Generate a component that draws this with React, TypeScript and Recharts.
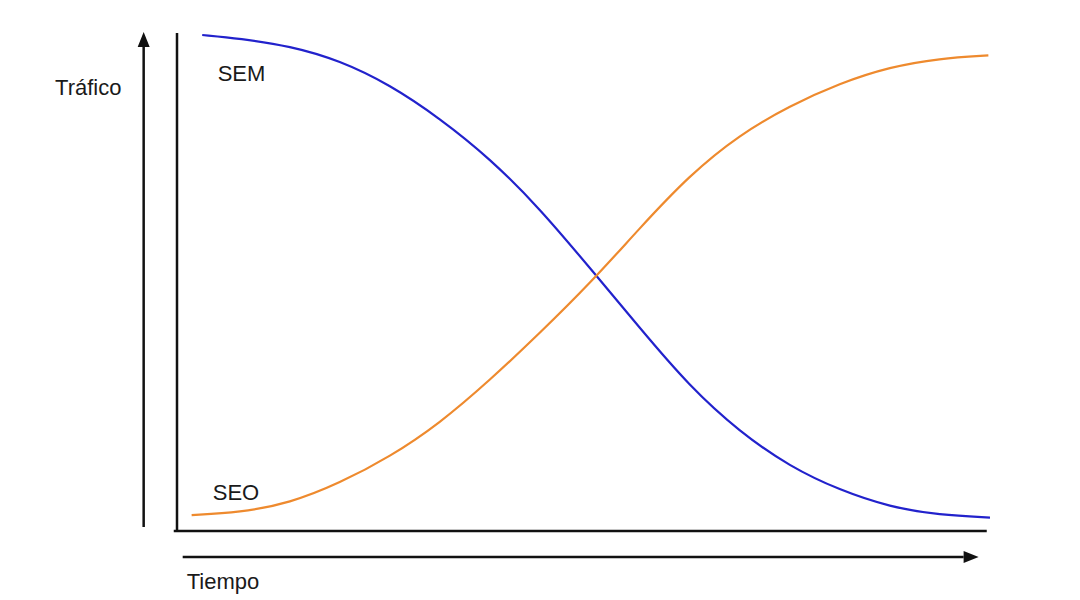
import React from 'react';
import { LineChart, Line, XAxis, YAxis, ReferenceLine, ReferenceDot } from 'recharts';

// Time (0-100) and traffic (0-100) in arbitrary units
const semTime = [3.1, 7.7, 13.9, 20.0, 26.2, 32.3, 38.5, 44.6, 50.8, 56.9, 63.0, 69.2, 75.4, 81.5, 87.7, 93.8, 100];
const semTraffic = [99.6, 98.9, 97.4, 94.5, 89.6, 82.9, 74.8, 64.8, 52.8, 40.8, 29.1, 19.9, 12.9, 8.2, 4.8, 3.2, 2.7];
const seoTime = [1.8, 7.7, 13.9, 20.0, 26.2, 32.3, 38.5, 44.6, 50.8, 56.9, 63.0, 69.2, 75.4, 81.5, 87.7, 93.8, 99.8];
const seoTraffic = [3.2, 3.7, 5.6, 9.6, 14.9, 21.6, 30.3, 39.7, 49.7, 60.8, 71.4, 79.6, 85.4, 89.9, 93.2, 94.9, 95.5];

const labels = [
  { name: 'SEM', t: 5, v: 91.8 },
  { name: 'SEO', t: 4.4, v: 7.8 },
  { name: 'Tráfico', t: -15, v: 89 },
  { name: 'Tiempo', t: 1.2, v: -10.2 },
];

const semData = semTime.map((t, i) => ({ t, v: semTraffic[i] }));
const seoData = seoTime.map((t, i) => ({ t, v: seoTraffic[i] }));

const FONT = '"Liberation Sans", Arial, sans-serif';

const ArrowShape = (props: any) => {
  const { x1, y1, x2, y2 } = props;
  const dx = x2 - x1;
  const dy = y2 - y1;
  const len = Math.sqrt(dx * dx + dy * dy) || 1;
  const ux = dx / len;
  const uy = dy / len;
  const headLen = 15;
  const headHalf = 6;
  const bx = x2 - ux * headLen;
  const by = y2 - uy * headLen;
  const px = -uy;
  const py = ux;
  const pts = `${x2},${y2} ${bx + px * headHalf},${by + py * headHalf} ${bx - px * headHalf},${by - py * headHalf}`;
  return (
    <g>
      <line x1={x1} y1={y1} x2={bx} y2={by} stroke="#111" strokeWidth={2.5} />
      <polygon points={pts} fill="#111" />
    </g>
  );
};

const PlainLine = (props: any) => {
  const { x1, y1, x2, y2 } = props;
  return <line x1={x1} y1={y1} x2={x2} y2={y2} stroke="#111" strokeWidth={2.5} />;
};

const makeText = (name: string) => (props: any) => {
  const { cx, cy } = props;
  return (
    <text x={cx} y={cy} dominantBaseline="central" textAnchor="start" fontFamily={FONT} fontSize={22} fill="#1a1a1a">
      {name}
    </text>
  );
};

export default function App() {
  return (
    <LineChart width={1064} height={590} margin={{ top: 25, right: 82, bottom: 67, left: 169 }}>
      <XAxis type="number" dataKey="t" domain={[0, 100]} hide allowDataOverflow />
      <YAxis type="number" dataKey="v" domain={[0, 100]} hide allowDataOverflow />
      <ReferenceLine segment={[{ x: 0, y: 0 }, { x: 0, y: 100 }]} ifOverflow="visible" shape={PlainLine} />
      <ReferenceLine segment={[{ x: -0.4, y: 0 }, { x: 99.6, y: 0 }]} ifOverflow="visible" shape={PlainLine} />
      <ReferenceLine segment={[{ x: -4.1, y: 0.8 }, { x: -4.1, y: 100.2 }]} ifOverflow="visible" shape={ArrowShape} />
      <ReferenceLine segment={[{ x: 0.7, y: -5.2 }, { x: 98.6, y: -5.2 }]} ifOverflow="visible" shape={ArrowShape} />
      <Line data={semData} dataKey="v" type="basis" stroke="#2222cc" strokeWidth={2.2} dot={false} isAnimationActive={false} />
      <Line data={seoData} dataKey="v" type="basis" stroke="#ee8a2e" strokeWidth={2.2} dot={false} isAnimationActive={false} />
      {labels.map((l) => (
        <ReferenceDot key={l.name} x={l.t} y={l.v} r={0} ifOverflow="visible" shape={makeText(l.name)} />
      ))}
    </LineChart>
  );
}
